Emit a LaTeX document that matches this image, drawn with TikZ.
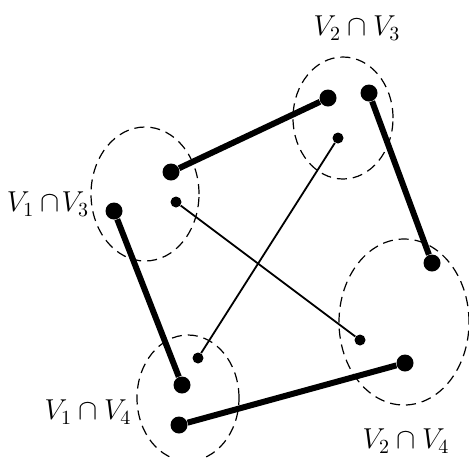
\documentclass[tikz,border=0pt]{standalone}
\usepackage{tikz}
\usetikzlibrary{shapes.geometric}

\begin{document}
\begin{tikzpicture}[x=0.5pt,y=-0.5pt,
  region/.style={draw,ellipse,dash pattern=on 5pt off 3pt,line width=0.6pt,inner sep=0pt},
  bigdot/.style={circle,fill,inner sep=0pt,minimum size=8.5pt},
  smalldot/.style={circle,fill,inner sep=0pt,minimum size=5.5pt},
  strong/.style={line width=3pt},
  weak/.style={line width=0.9pt},
  lab/.style={font=\fontsize{14}{16}\selectfont},
]
  \useasboundingbox (0,0) rectangle (469,457);

  % Regions
  \node[region,minimum width=50pt,minimum height=61pt] (r23) at (343,118) {};
  \node[region,minimum width=54pt,minimum height=67pt] (r13) at (145,194) {};
  \node[region,minimum width=51pt,minimum height=63pt] (r14) at (188,398) {};
  \node[region,minimum width=65pt,minimum height=83pt] (r24) at (404,322) {};

  % Labels
  \node[lab] (l23) at (357,28) {$V_2 \cap V_3$};
  \node[lab] (l13) at (48,204) {$V_1 \cap\! V_3$};
  \node[lab] (l14) at (88,412) {$V_1 \cap V_4$};
  \node[lab] (l24) at (406,441) {$V_2 \cap V_4$};

  % Vertices
  \node[bigdot] (a) at (171,172) {};
  \node[bigdot] (b) at (328,98) {};
  \node[bigdot] (c) at (369,93) {};
  \node[bigdot] (d) at (432,263) {};
  \node[bigdot] (e) at (114,211) {};
  \node[bigdot] (f) at (182,385) {};
  \node[bigdot] (g) at (179,425) {};
  \node[bigdot] (h) at (405,363) {};
  \node[smalldot] (s1) at (176,202) {};
  \node[smalldot] (s2) at (338,138) {};
  \node[smalldot] (s3) at (198,358) {};
  \node[smalldot] (s4) at (360,340) {};

  % Edges
  \draw[strong] (a) -- (b);
  \draw[strong] (c) -- (d);
  \draw[strong] (e) -- (f);
  \draw[strong] (g) -- (h);
  \draw[weak] (s1) -- (s4);
  \draw[weak] (s2) -- (s3);
\end{tikzpicture}
\end{document}
